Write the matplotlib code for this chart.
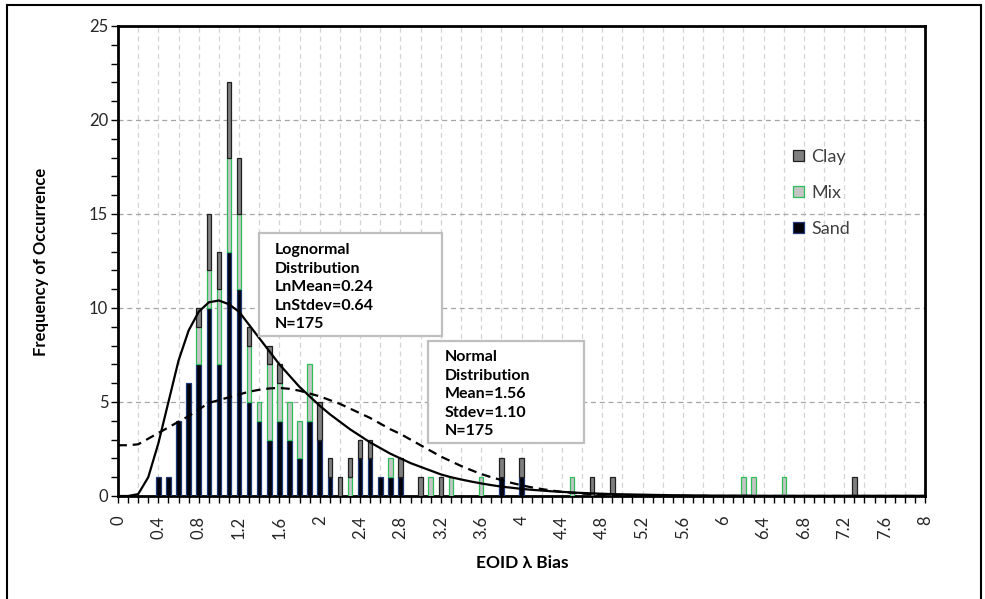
import matplotlib
matplotlib.use("Agg")
import matplotlib.pyplot as plt
import numpy as np
from matplotlib.patches import Rectangle
from matplotlib.ticker import MultipleLocator, FuncFormatter

plt.rcParams['font.family'] = ['Lato', 'DejaVu Sans']

# EOID lambda bias bins (0.1 wide) that hold at least one case
bins = [0.4, 0.5, 0.6, 0.7, 0.8, 0.9, 1.0, 1.1, 1.2, 1.3, 1.4, 1.5, 1.6, 1.7,
        1.8, 1.9, 2.0, 2.1, 2.2, 2.3, 2.4, 2.5, 2.6, 2.7, 2.8, 3.0, 3.1, 3.2,
        3.3, 3.6, 3.8, 4.0, 4.5, 4.7, 4.9, 6.2, 6.3, 6.6, 7.3]
sand = [1, 1, 4, 6, 7, 10, 7, 13, 11, 5, 4, 3, 4, 3,
        2, 4, 3, 1, 0, 0, 2, 2, 1, 1, 1, 0, 0, 0,
        0, 0, 1, 1, 0, 0, 0, 0, 0, 0, 0]
mix = [0, 0, 0, 0, 2, 2, 4, 5, 4, 3, 1, 4, 2, 2,
       2, 3, 0, 0, 0, 1, 0, 0, 0, 1, 0, 0, 1, 0,
       1, 1, 0, 0, 1, 0, 0, 1, 1, 1, 0]
clay = [0, 0, 0, 0, 1, 3, 2, 4, 3, 1, 0, 1, 1, 0,
        0, 0, 2, 1, 1, 1, 1, 1, 0, 0, 1, 1, 0, 1,
        0, 0, 1, 1, 0, 1, 1, 0, 0, 0, 1]

# fitted curves, read at every category 0, 0.1, ... 8
categories = np.round(np.arange(0, 8.01, 0.1), 1)
lognormal = [0.0, 0.0, 0.1, 1.0, 2.8, 5.0, 7.2, 8.8, 9.8, 10.3,
             10.4, 10.2, 9.8, 9.1, 8.4, 7.7, 7.0, 6.4, 5.8, 5.3,
             4.8, 4.35, 3.95, 3.55, 3.2, 2.85, 2.55, 2.25, 2.0, 1.75,
             1.55, 1.35, 1.15, 1.0, 0.88, 0.77, 0.67, 0.58, 0.5, 0.44,
             0.38, 0.33, 0.29, 0.25, 0.22, 0.19, 0.16, 0.14, 0.12, 0.1,
             0.09, 0.08, 0.07, 0.06, 0.05, 0.04, 0.04, 0.03, 0.03, 0.02,
             0.02, 0.02, 0.02] + [0.01] * 18
normal = [2.7, 2.7, 2.75, 3.05, 3.35, 3.65, 3.95, 4.25, 4.6, 4.95,
          5.1, 5.25, 5.4, 5.55, 5.65, 5.72, 5.75, 5.7, 5.6, 5.45,
          5.3, 5.1, 4.9, 4.65, 4.4, 4.15, 3.85, 3.55, 3.3, 3.0,
          2.7, 2.4, 2.1, 1.85, 1.6, 1.38, 1.17, 1.0, 0.85, 0.7,
          0.57, 0.46, 0.37, 0.29, 0.22, 0.17, 0.13, 0.1, 0.07, 0.05,
          0.04, 0.03, 0.02, 0.01] + [0.0] * 27

lognormal_text = ["Lognormal", "Distribution", "LnMean=0.24", "LnStdev=0.64", "N=175"]
normal_text = ["Normal", "Distribution", "Mean=1.56", "Stdev=1.10", "N=175"]

W, H = 985, 599
fig = plt.figure(figsize=(W / 100, H / 100), dpi=100)
ax = fig.add_axes([118 / W, 1 - 496 / H, (925 - 118) / W, (496 - 26) / H])

bins = np.array(bins)
sand = np.array(sand)
mix = np.array(mix)
clay = np.array(clay)
bw = 0.045


def stacked(values, bottom, **kw):
    keep = values > 0
    return ax.bar(bins[keep], values[keep], bottom=bottom[keep], width=bw,
                  zorder=3, **kw)


h_sand = stacked(sand, np.zeros_like(sand), color='#02030a',
                 edgecolor='#1f3a78', linewidth=0.9)
h_mix = stacked(mix, sand, color='#c4c4c4', edgecolor='#2fbf5a', linewidth=0.9)
h_clay = stacked(clay, sand + mix, color='#7f7f7f', edgecolor='#202020',
                 linewidth=0.9)

ax.plot(categories, lognormal, color='black', lw=1.6, zorder=4)
ax.plot(categories, normal, color='black', lw=1.6, ls=(0, (4, 2.6)), zorder=4)

ax.set_xlim(0, 8)
ax.set_ylim(0, 25)

ax.xaxis.set_major_locator(MultipleLocator(0.2))
ax.xaxis.set_minor_locator(MultipleLocator(0.1))
ax.xaxis.set_major_formatter(FuncFormatter(
    lambda v, p: f"{v:g}" if abs(v / 0.4 - round(v / 0.4)) < 1e-6 else ""))
ax.yaxis.set_major_locator(MultipleLocator(5))
ax.yaxis.set_minor_locator(MultipleLocator(1))

ax.tick_params(axis='both', which='both', direction='out', length=5,
               width=1, color='black')
ax.tick_params(axis='x', which='major', labelsize=12, labelrotation=90,
               labelcolor='#262626', pad=9)
ax.tick_params(axis='y', which='major', labelsize=12, labelcolor='#262626',
               pad=2)

ax.grid(axis='x', which='major', color='#d4d4d4', ls=(0, (4, 3)), lw=0.9)
ax.grid(axis='y', which='major', color='#a6a6a6', ls=(0, (4, 3)), lw=0.9)
ax.set_axisbelow(True)

for s in ax.spines.values():
    s.set_color('black')
    s.set_linewidth(2)

fig.text(41 / W, 1 - 262 / H, "Frequency of Occurrence", rotation=90,
         ha='center', va='center', fontsize=12, fontweight='bold')
fig.text(522 / W, 1 - 563 / H, "EOID λ Bias", ha='center', va='center',
         fontsize=12.5, fontweight='bold')


def text_box(x0, y0, x1, y1, tx, ty, lines):
    fig.add_artist(Rectangle((x0 / W, 1 - y1 / H), (x1 - x0) / W,
                             (y1 - y0) / H, transform=fig.transFigure,
                             facecolor='white', edgecolor='#bfbfbf', lw=1.6,
                             zorder=5))
    for i, line in enumerate(lines):
        fig.text(tx / W, 1 - (ty + i * 18.6) / H, line, ha='left',
                 va='center', fontsize=11.5, fontweight='bold', zorder=6)


text_box(259, 233, 442, 336, 275, 250, lognormal_text)
text_box(428, 341, 584, 443, 445, 357, normal_text)

leg = ax.legend([h_clay, h_mix, h_sand], ["Clay", "Mix", "Sand"],
                loc='upper left', bbox_to_anchor=(793 / W, 1 - 149 / H),
                bbox_transform=fig.transFigure, frameon=False, fontsize=13,
                handlelength=0.62, handleheight=0.62, handletextpad=0.4,
                labelspacing=1.1, borderpad=0, borderaxespad=0)
for t in leg.get_texts():
    t.set_color('#404040')

# outer frame of the picture
fig.add_artist(Rectangle((7 / W, -0.02), (981 - 7) / W, 1 - 5 / H + 0.02,
                         transform=fig.transFigure, fill=False,
                         edgecolor='black', lw=1.5, zorder=10))

fig.savefig("out.png", dpi=100)
